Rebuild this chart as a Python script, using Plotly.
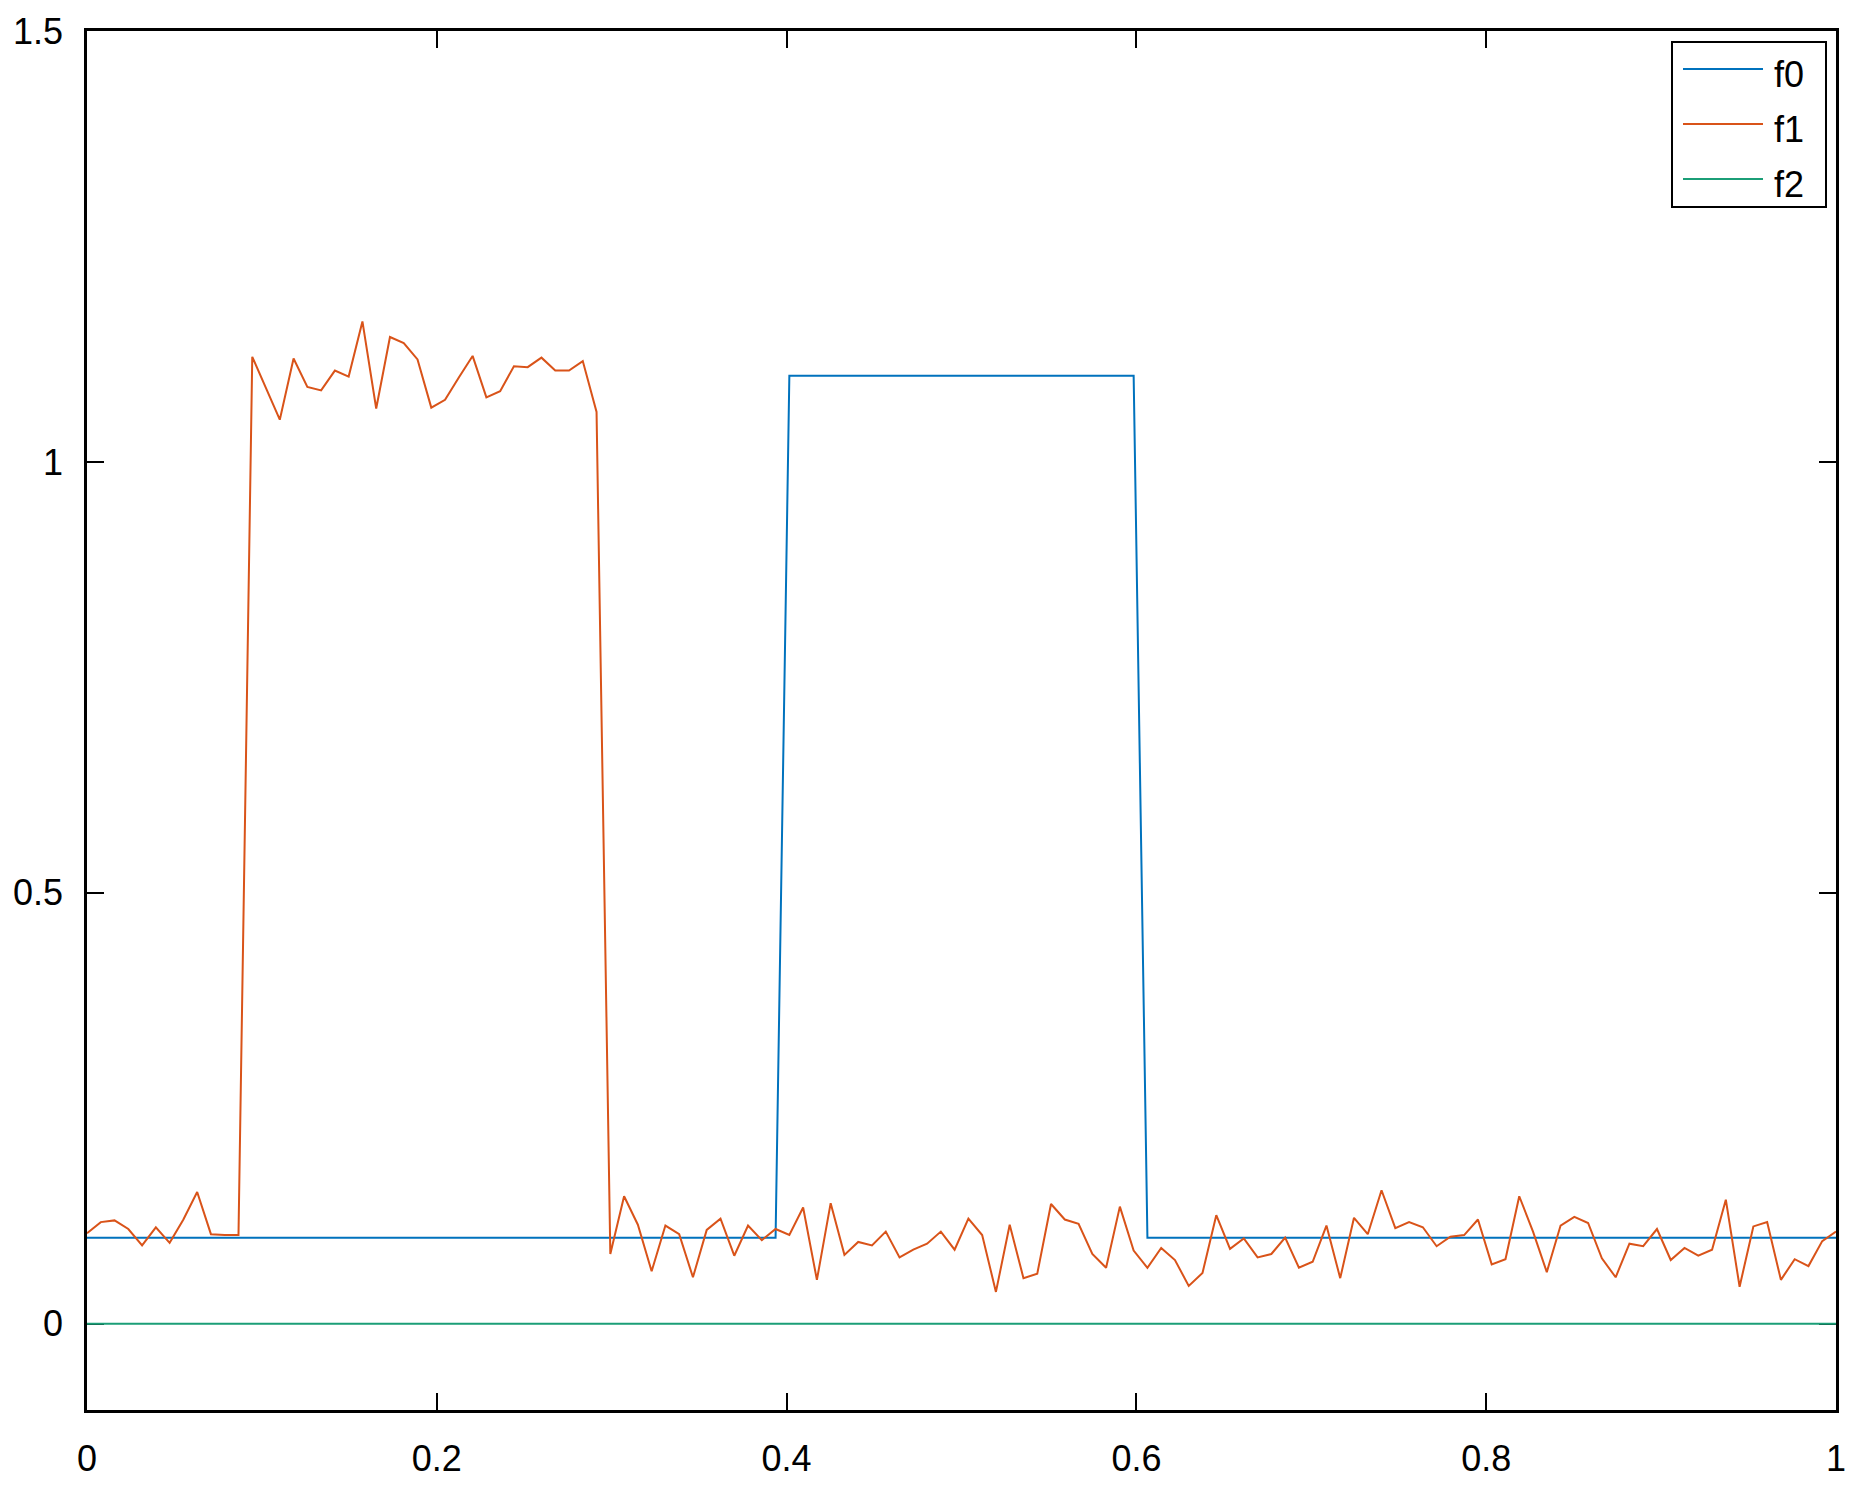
import numpy as np
import plotly.graph_objects as go

# sample grid: 128 evenly spaced points on [0, 1]
x = np.linspace(0, 1, 128)

# f0: clean pulse
f0 = [0.1] * 51 + [1.1] * 26 + [0.1] * 51

# f1: noisy, shifted pulse (read point by point)
f1 = [
    0.105, 0.118, 0.120, 0.110, 0.091, 0.112, 0.094, 0.121, 0.153, 0.104, 0.103, 0.103,
    1.122, 1.086, 1.049, 1.120, 1.087, 1.083, 1.106, 1.099, 1.163, 1.062, 1.145, 1.138,
    1.119, 1.063, 1.072, 1.098, 1.123, 1.075, 1.082, 1.111, 1.110, 1.121, 1.106, 1.106,
    1.117, 1.058,
    0.081, 0.148, 0.115, 0.061, 0.114, 0.104, 0.054, 0.109, 0.122, 0.079, 0.114, 0.097,
    0.110, 0.103, 0.135, 0.051, 0.140, 0.080, 0.095, 0.091, 0.107, 0.077, 0.086, 0.093,
    0.107, 0.086, 0.122, 0.103, 0.037, 0.115, 0.053, 0.058, 0.139, 0.121, 0.116, 0.081,
    0.065, 0.136, 0.085, 0.065, 0.088, 0.074, 0.044, 0.059, 0.126, 0.087, 0.099,
    0.077, 0.081, 0.100, 0.065, 0.072, 0.114, 0.053, 0.123, 0.104, 0.155, 0.111, 0.118,
    0.112, 0.090, 0.101, 0.103, 0.121, 0.069, 0.075, 0.148, 0.107, 0.060, 0.114,
    0.124, 0.117, 0.076, 0.054, 0.093, 0.090, 0.110, 0.074, 0.088, 0.079, 0.086, 0.144,
    0.043, 0.113, 0.118, 0.051, 0.075, 0.067, 0.096, 0.107,
]

# f2: flat zero
f2 = [0.0] * 128

names = ["f0", "f1", "f2"]
colors = ["#0072BD", "#D95319", "#1B9E77"]

xtick_vals = [0, 0.2, 0.4, 0.6, 0.8, 1]
xtick_text = ["0", "0.2", "0.4", "0.6", "0.8", "1"]
ytick_vals = [0, 0.5, 1, 1.5]
ytick_text = ["0", "0.5", "1", "1.5"]

W, H = 1868, 1497
L, R, T, B = 87, 32, 31, 87
pw, ph = W - L - R, H - T - B

fig = go.Figure()
for name, ys, c in zip(names, [f0, f1, f2], colors):
    fig.add_trace(go.Scatter(x=x, y=ys, mode="lines", name=name,
                             line=dict(color=c, width=2)))

font = dict(family="Liberation Sans, Arial, sans-serif", size=36, color="black")

# axes sit under the traces, so the f2 line hides the ticks at y=0
axis_common = dict(showline=True, linecolor="black", linewidth=2.5, mirror="ticks",
                   ticks="inside", ticklen=17, tickwidth=2, tickcolor="black",
                   showgrid=False, zeroline=False, tickfont=font,
                   layer="below traces")

fig.update_xaxes(range=[0, 1], tickvals=xtick_vals, ticktext=xtick_text,
                 ticklabelstandoff=15, **axis_common)
fig.update_yaxes(range=[-0.1, 1.5], tickvals=ytick_vals, ticktext=ytick_text,
                 ticklabelstandoff=14, **axis_common)


# legend drawn by hand so the sample lines match the original length
# (arguments are page pixels)
def px_x(p):
    return (p - L) / pw


def px_y(p):
    return (H - B - p) / ph


shapes = [dict(type="rect", xref="paper", yref="paper",
               x0=px_x(1672), x1=px_x(1826), y0=px_y(207), y1=px_y(42),
               line=dict(color="black", width=2), fillcolor="white")]
annotations = []
for k, (name, c) in enumerate(zip(names, colors)):
    row = 69 + 55 * k
    shapes.append(dict(type="line", xref="paper", yref="paper",
                       x0=px_x(1683), x1=px_x(1763), y0=px_y(row), y1=px_y(row),
                       line=dict(color=c, width=2)))
    annotations.append(dict(text=name, xref="paper", yref="paper",
                            x=px_x(1772), y=px_y(row + 5), xanchor="left",
                            yanchor="middle", showarrow=False,
                            font=dict(family=font["family"], size=36, color="black")))

fig.update_layout(
    width=W, height=H,
    margin=dict(l=L, r=R, t=T, b=B),
    plot_bgcolor="white", paper_bgcolor="white",
    showlegend=False,
    shapes=shapes, annotations=annotations,
)

# drop the default page margin so the figure sits at the window corner
fig.write_html("out.html", config={"displayModeBar": False},
               post_script="document.body.style.margin='0';"
                           "document.body.style.overflow='hidden';")
